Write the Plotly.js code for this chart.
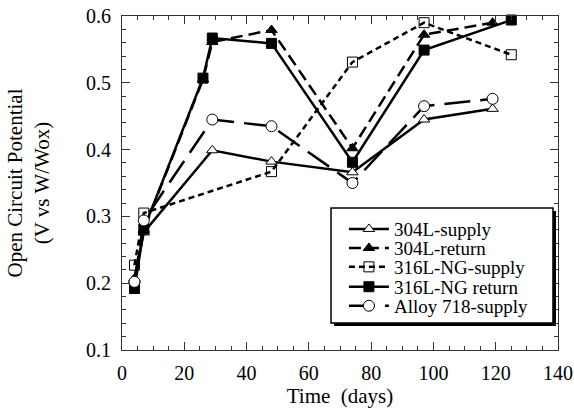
<!DOCTYPE html>
<html>
<head>
<meta charset="utf-8">
<script src="https://cdn.plot.ly/plotly-3.0.1.min.js"></script>
<style>
  html, body { margin: 0; padding: 0; background: #fff; }
  #chart { width: 574px; height: 414px; }
</style>
</head>
<body>
<div id="chart"></div>
<script>
// ---- data ----
const seriesNames = ["304L-supply", "304L-return", "316L-NG-supply", "316L-NG return", "Alloy 718-supply"];

const days304Supply = [4, 7, 29, 48, 74, 97, 119];
const ocp304Supply  = [0.207, 0.276, 0.399, 0.382, 0.366, 0.445, 0.461];

const days304Return = [4, 7, 26, 29, 48, 74, 97, 119];
const ocp304Return  = [0.205, 0.280, 0.505, 0.561, 0.579, 0.402, 0.572, 0.590];

const days316Supply = [4, 7, 48, 74, 97, 125];
const ocp316Supply  = [0.227, 0.305, 0.367, 0.531, 0.590, 0.542];

const days316Return = [4, 7, 26, 29, 48, 74, 97, 125];
const ocp316Return  = [0.192, 0.281, 0.507, 0.567, 0.559, 0.381, 0.549, 0.594];

const days718Supply = [4, 7, 29, 48, 74, 97, 119];
const ocp718Supply  = [0.202, 0.294, 0.445, 0.435, 0.350, 0.465, 0.476];

const xTickVals = [0, 20, 40, 60, 80, 100, 120, 140];
const yTickVals = [0.1, 0.2, 0.3, 0.4, 0.5, 0.6];

const serif = "Liberation Serif, Times New Roman, serif";
const black = "#000";

// legend row placement (paper coords), one legend per series
const legendX = 0.509;
const legendRowsY = [0.362, 0.305, 0.2485, 0.189, 0.132];

function trace(i, x, y, dash, symbol, fill) {
  return {
    type: "scatter", mode: "lines+markers", name: seriesNames[i], x: x, y: y,
    legend: i === 0 ? "legend" : "legend" + (i + 1),
    line: { color: black, width: 2.5, dash: dash },
    marker: { symbol: symbol, size: 10, color: fill, line: { color: black, width: 1 } },
    cliponaxis: false
  };
}

const data = [
  trace(0, days304Supply, ocp304Supply, "solid", "triangle-up", "#fff"),
  trace(1, days304Return, ocp304Return, "12px,6px", "triangle-up", black),
  trace(2, days316Supply, ocp316Supply, "6px,4px", "square-open", black),
  trace(3, days316Return, ocp316Return, "solid", "square", black),
  trace(4, days718Supply, ocp718Supply, "26px,10px", "circle", "#fff")
];
data[4].marker.size = 11;

const axisCommon = {
  showline: true, linecolor: "#333", linewidth: 1, mirror: "allticks",
  ticks: "inside", ticklen: 8, tickwidth: 1, tickcolor: "#333",
  showgrid: false, zeroline: false,
  tickfont: { family: serif, size: 20, color: black }
};

function legendAt(y) {
  return {
    x: legendX, y: y, xanchor: "left", yanchor: "middle",
    bgcolor: "rgba(0,0,0,0)", borderwidth: 0, itemwidth: 40,
    font: { family: serif, size: 19, color: black }
  };
}

const layout = {
  width: 574, height: 414,
  margin: { l: 122, r: 16, t: 16, b: 64 },
  paper_bgcolor: "#fff", plot_bgcolor: "#fff",
  showlegend: true,
  legend: legendAt(legendRowsY[0]),
  legend2: legendAt(legendRowsY[1]),
  legend3: legendAt(legendRowsY[2]),
  legend4: legendAt(legendRowsY[3]),
  legend5: legendAt(legendRowsY[4]),
  shapes: [
    { type: "rect", xref: "paper", yref: "paper", layer: "above",
      x0: 0.4863, x1: 0.9954, y0: 0.0719, y1: 0.4162,
      fillcolor: black, line: { width: 0 } },
    { type: "rect", xref: "paper", yref: "paper", layer: "above",
      x0: 0.4794, x1: 0.9885, y0: 0.0808, y1: 0.4251,
      fillcolor: "#fff", line: { color: black, width: 1.5 } }
  ],
  xaxis: Object.assign({}, axisCommon, {
    range: [0, 140], tickvals: xTickVals, ticktext: xTickVals.map(String),
    minor: { dtick: 5, tick0: 0, ticks: "inside", ticklen: 4, tickcolor: "#333" },
    ticklabelstandoff: 5,
    title: { text: "Time\u00a0 (days)", font: { family: serif, size: 21, color: black }, standoff: 5 }
  }),
  yaxis: Object.assign({}, axisCommon, {
    range: [0.1, 0.6], tickvals: yTickVals, ticktext: yTickVals.map(v => v.toFixed(1)),
    minor: { dtick: 0.02, tick0: 0.1, ticks: "inside", ticklen: 4, tickcolor: "#333" },
    ticklabelstandoff: 6,
    title: { text: "Open Circuit Potential<br>(V vs W/Wox)", font: { family: serif, size: 21, color: black }, standoff: 30 }
  })
};

Plotly.newPlot("chart", data, layout, { displayModeBar: false, staticPlot: true });
</script>
</body>
</html>
